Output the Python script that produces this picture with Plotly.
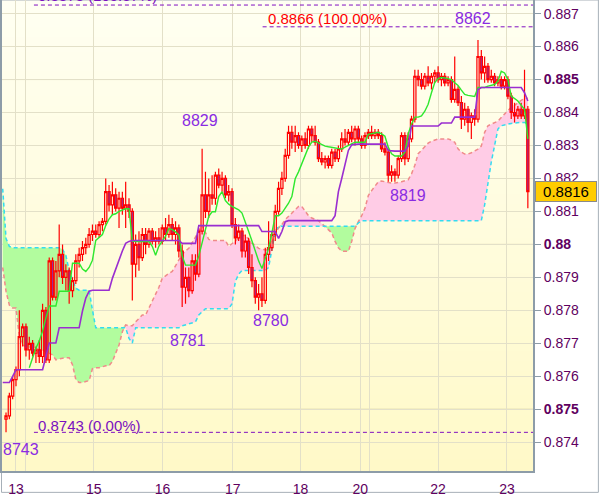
import plotly.graph_objects as go
import zlib, struct, base64

# ---------------- data (prices in 1/10000 units) ----------------
opens = [8747, 8748, 8754, 8759, 8762, 8772, 8775, 8768, 8770, 8767,
         8768, 8766, 8780, 8765, 8795, 8784, 8792, 8797, 8790, 8792,
         8786, 8789, 8795, 8797, 8799, 8800, 8803, 8804, 8803, 8806,
         8807, 8816, 8812, 8815, 8811, 8814, 8811, 8812, 8810, 8794,
         8800, 8796, 8803, 8800, 8804, 8801, 8802, 8801, 8805, 8803,
         8806, 8803, 8805, 8798, 8787, 8790, 8786, 8795, 8791, 8804,
         8815, 8810, 8815, 8814, 8821, 8818, 8820, 8815, 8816, 8806,
         8802, 8804, 8798, 8801, 8793, 8789, 8784, 8785, 8783, 8797,
         8799, 8803, 8810, 8817, 8820, 8827, 8834, 8831, 8833, 8830,
         8832, 8830, 8835, 8833, 8831, 8826, 8825, 8826, 8824, 8828,
         8826, 8829, 8832, 8831, 8834, 8832, 8835, 8832, 8830, 8833,
         8834, 8833, 8834, 8833, 8829, 8828, 8821, 8822, 8821, 8826,
         8833, 8826, 8832, 8838, 8851, 8850, 8848, 8851, 8849, 8851,
         8852, 8850, 8851, 8849, 8850, 8844, 8847, 8843, 8838, 8841,
         8837, 8839, 8838, 8857, 8852, 8854, 8850, 8851, 8849, 8850,
         8848, 8850, 8845, 8840, 8839, 8841, 8839, 8841]
highs = [8749, 8755, 8760, 8763, 8780, 8776, 8776, 8772, 8771, 8769,
         8771, 8782, 8781, 8796, 8796, 8795, 8806, 8800, 8794, 8793,
         8790, 8797, 8799, 8801, 8802, 8805, 8806, 8806, 8807, 8808,
         8820, 8818, 8819, 8817, 8816, 8816, 8819, 8814, 8811, 8803,
         8804, 8805, 8805, 8805, 8805, 8804, 8805, 8806, 8808, 8809,
         8808, 8807, 8806, 8800, 8793, 8793, 8797, 8797, 8805, 8829,
         8822, 8820, 8821, 8822, 8823, 8822, 8821, 8818, 8817, 8808,
         8806, 8805, 8803, 8802, 8797, 8790, 8788, 8790, 8799, 8807,
         8804, 8812, 8819, 8822, 8829, 8836, 8836, 8836, 8834, 8833,
         8834, 8836, 8836, 8836, 8832, 8828, 8827, 8827, 8829, 8829,
         8830, 8834, 8835, 8835, 8836, 8836, 8836, 8833, 8834, 8835,
         8836, 8835, 8835, 8834, 8831, 8829, 8824, 8823, 8827, 8834,
         8834, 8834, 8839, 8853, 8853, 8852, 8852, 8854, 8852, 8853,
         8854, 8852, 8852, 8851, 8851, 8857, 8848, 8845, 8843, 8842,
         8840, 8841, 8862, 8859, 8857, 8855, 8853, 8852, 8851, 8851,
         8851, 8851, 8846, 8843, 8842, 8843, 8853, 8842]
lows = [8743, 8747, 8753, 8757, 8760, 8769, 8766, 8765, 8766, 8764,
        8764, 8764, 8764, 8764, 8783, 8783, 8790, 8788, 8786, 8782,
        8784, 8788, 8793, 8795, 8797, 8799, 8801, 8802, 8802, 8804,
        8806, 8810, 8809, 8810, 8805, 8809, 8805, 8808, 8783, 8790,
        8792, 8795, 8797, 8799, 8800, 8799, 8800, 8800, 8801, 8802,
        8801, 8800, 8796, 8781, 8782, 8784, 8785, 8789, 8790, 8803,
        8808, 8808, 8812, 8812, 8817, 8816, 8814, 8813, 8805, 8800,
        8801, 8796, 8796, 8791, 8787, 8782, 8780, 8781, 8782, 8795,
        8798, 8801, 8809, 8815, 8819, 8826, 8829, 8828, 8829, 8828,
        8829, 8829, 8831, 8830, 8825, 8824, 8823, 8823, 8823, 8825,
        8825, 8828, 8830, 8830, 8831, 8830, 8831, 8829, 8829, 8832,
        8832, 8832, 8832, 8828, 8827, 8819, 8819, 8819, 8820, 8825,
        8824, 8825, 8831, 8837, 8848, 8847, 8847, 8848, 8847, 8849,
        8849, 8848, 8848, 8848, 8843, 8843, 8842, 8835, 8836, 8834,
        8832, 8836, 8837, 8850, 8849, 8849, 8849, 8848, 8848, 8847,
        8847, 8844, 8838, 8837, 8838, 8838, 8838, 8811]
closes = [8748, 8754, 8759, 8762, 8772, 8775, 8768, 8770, 8767, 8768,
          8766, 8780, 8765, 8795, 8784, 8792, 8797, 8790, 8792, 8786,
          8789, 8795, 8797, 8799, 8800, 8803, 8804, 8803, 8806, 8807,
          8816, 8812, 8815, 8811, 8814, 8811, 8812, 8810, 8794, 8800,
          8796, 8803, 8800, 8804, 8801, 8802, 8801, 8805, 8803, 8806,
          8803, 8805, 8798, 8787, 8790, 8786, 8795, 8791, 8804, 8815,
          8810, 8815, 8814, 8821, 8818, 8820, 8815, 8816, 8806, 8802,
          8804, 8798, 8801, 8793, 8789, 8784, 8785, 8783, 8797, 8799,
          8803, 8810, 8817, 8820, 8827, 8834, 8831, 8833, 8830, 8832,
          8830, 8835, 8833, 8831, 8826, 8825, 8826, 8824, 8828, 8826,
          8829, 8832, 8831, 8834, 8832, 8835, 8832, 8830, 8833, 8834,
          8833, 8834, 8833, 8829, 8828, 8821, 8822, 8821, 8826, 8833,
          8826, 8832, 8838, 8851, 8850, 8848, 8851, 8849, 8851, 8852,
          8850, 8851, 8849, 8850, 8844, 8847, 8843, 8838, 8841, 8837,
          8839, 8838, 8857, 8852, 8854, 8850, 8851, 8849, 8850, 8848,
          8850, 8845, 8840, 8839, 8841, 8839, 8841, 8816]
CANDLE_FIRST_BAR = 1

# Tenkan-sen (starts at bar 8)
tenkan = [8762.6, 8765.6, 8768.6, 8770.7, 8773.7, 8777.7, 8781.3, 8781.3, 8781.3, 8785.8,
          8785.8, 8785.8, 8785.8, 8794.3, 8794.3, 8794.3, 8792.5, 8791.8, 8793.0, 8795.2,
          8801.2, 8802.0, 8803.0, 8805.7, 8807.7, 8809.0, 8809.3, 8810.0, 8810.5, 8810.8,
          8810.8, 8801.0, 8800.9, 8800.9, 8800.9, 8800.9, 8800.9, 8799.4, 8796.7, 8799.5,
          8800.9, 8802.5, 8804.8, 8804.5, 8803.8, 8802.8, 8796.5, 8793.7, 8793.7, 8793.7,
          8793.7, 8796.5, 8800.5, 8803.9, 8808.5, 8809.9, 8809.9, 8814.5, 8816.0, 8813.3,
          8812.2, 8811.5, 8811.0, 8810.5, 8809.5, 8807.0, 8803.9, 8801.0, 8797.9, 8795.0,
          8792.7, 8795.5, 8798.8, 8803.5, 8808.7, 8808.7, 8809.5, 8811.0, 8812.5, 8814.5,
          8819.9, 8822.0, 8824.5, 8826.8, 8829.5, 8831.0, 8831.3, 8830.8, 8830.2, 8829.8,
          8829.6, 8829.4, 8829.2, 8829.0, 8828.9, 8829.5, 8830.0, 8830.5, 8831.0, 8831.0,
          8831.0, 8831.0, 8833.4, 8833.6, 8833.8, 8834.0, 8833.5, 8832.8, 8829.5, 8827.5,
          8826.8, 8826.8, 8826.8, 8828.0, 8833.5, 8836.5, 8838.6, 8838.6, 8839.0, 8840.4,
          8842.5, 8846.0, 8849.1, 8850.3, 8850.6, 8850.5, 8850.3, 8850.0, 8849.0, 8848.2,
          8846.8, 8845.5, 8845.2, 8845.0, 8844.9, 8847.6, 8847.6, 8847.6, 8848.0, 8848.2,
          8848.5, 8849.5, 8852.5, 8852.0, 8850.0, 8845.0, 8844.2, 8843.5, 8842.2, 8841.0,
          8832.0]
TENKAN_FIRST_BAR = 8

# Kijun-sen (bars 0..158)
kijun = [8758.1, 8758.1, 8758.1, 8760.0, 8762.0, 8762.0, 8762.0, 8762.0, 8762.0, 8762.0,
         8762.0, 8762.0, 8762.0, 8766.0, 8770.1, 8770.1, 8770.1, 8774.7, 8774.7, 8774.7,
         8774.7, 8774.7, 8774.7, 8774.7, 8779.8, 8783.7, 8785.8, 8786.1, 8786.1, 8786.1,
         8786.1, 8786.1, 8786.1, 8789.7, 8792.7, 8795.2, 8798.0, 8800.3, 8800.9, 8801.2,
         8801.2, 8801.2, 8801.2, 8801.2, 8801.2, 8801.2, 8801.2, 8801.2, 8801.2, 8801.2,
         8801.2, 8801.2, 8801.2, 8801.2, 8800.3, 8800.3, 8800.3, 8800.3, 8800.3, 8805.7,
         8805.7, 8805.7, 8805.7, 8805.7, 8805.7, 8805.7, 8805.7, 8805.7, 8805.7, 8805.7,
         8805.7, 8805.7, 8805.7, 8805.7, 8805.7, 8805.7, 8805.7, 8805.7, 8803.9, 8803.9,
         8803.9, 8803.9, 8803.9, 8801.8, 8803.9, 8806.9, 8807.2, 8807.2, 8807.2, 8807.2,
         8807.2, 8807.2, 8807.2, 8807.2, 8807.2, 8807.2, 8807.2, 8807.2, 8807.2, 8807.2,
         8808.7, 8816.0, 8820.0, 8823.8, 8828.5, 8830.2, 8830.4, 8830.4, 8830.4, 8830.4,
         8830.4, 8830.4, 8830.4, 8830.4, 8830.4, 8830.4, 8828.5, 8828.3, 8828.3, 8828.3,
         8828.3, 8828.3, 8829.8, 8835.9, 8835.9, 8835.9, 8835.9, 8835.9, 8835.9, 8835.9,
         8835.9, 8835.9, 8836.8, 8836.8, 8836.8, 8836.8, 8838.6, 8838.6, 8838.6, 8838.6,
         8838.6, 8838.6, 8838.6, 8847.0, 8847.6, 8847.6, 8847.6, 8847.6, 8847.6, 8847.6,
         8847.6, 8847.6, 8847.6, 8847.6, 8847.6, 8847.6, 8847.6, 8846.0, 8843.5]

# Senkou span A (bars 0..158)
span_a = [8793.0, 8785.8, 8781.6, 8780.7, 8780.7, 8772.0, 8769.5, 8769.0, 8769.0, 8768.6,
          8768.6, 8768.0, 8768.0, 8767.5, 8767.0, 8766.5, 8765.0, 8765.3, 8765.5, 8765.6,
          8765.6, 8763.5, 8759.0, 8758.1, 8758.1, 8758.4, 8758.7, 8762.3, 8762.6, 8762.6,
          8763.0, 8763.2, 8763.2, 8764.5, 8767.0, 8769.5, 8773.5, 8775.6, 8775.3, 8775.3,
          8776.5, 8777.5, 8778.6, 8778.6, 8780.7, 8783.0, 8785.0, 8787.0, 8789.7, 8790.6,
          8791.2, 8791.8, 8793.5, 8795.5, 8797.0, 8798.0, 8798.8, 8800.5, 8802.5, 8804.0,
          8805.7, 8803.5, 8801.5, 8801.2, 8801.2, 8801.2, 8801.2, 8801.2, 8799.4, 8800.3,
          8801.0, 8802.0, 8802.7, 8802.7, 8801.5, 8800.3, 8799.7, 8798.8, 8798.5, 8798.3,
          8798.2, 8800.5, 8803.3, 8805.0, 8806.0, 8807.5, 8808.5, 8809.5, 8810.8, 8811.5,
          8811.5, 8810.2, 8808.7, 8808.0, 8807.5, 8807.2, 8806.3, 8805.4, 8804.3, 8803.5,
          8800.9, 8799.0, 8797.9, 8797.9, 8797.9, 8800.9, 8804.8, 8806.9, 8808.7, 8811.0,
          8814.8, 8816.3, 8817.5, 8819.0, 8819.2, 8819.0, 8818.7, 8818.6, 8818.6, 8818.7,
          8819.0, 8819.3, 8819.6, 8821.4, 8824.0, 8827.5, 8828.6, 8829.8, 8830.7, 8831.3,
          8831.6, 8832.0, 8832.0, 8832.0, 8832.0, 8831.6, 8831.0, 8829.0, 8828.0, 8827.4,
          8827.4, 8827.8, 8828.3, 8828.9, 8829.8, 8834.0, 8836.0, 8836.5, 8837.1, 8837.4,
          8838.5, 8839.5, 8840.7, 8841.6, 8842.2, 8843.0, 8843.7, 8844.3, 8844.3]

# Senkou span B (bars 0..158)
span_b = [8816.9, 8801.8, 8799.4, 8799.0, 8799.0, 8799.0, 8799.0, 8799.0, 8799.0, 8799.0,
          8799.0, 8799.0, 8799.0, 8799.0, 8799.0, 8799.0, 8799.0, 8799.0, 8798.5, 8796.7,
          8792.0, 8789.5, 8786.7, 8786.1, 8786.1, 8786.1, 8786.1, 8780.1, 8774.7, 8774.7,
          8774.7, 8774.7, 8774.7, 8774.7, 8774.7, 8774.7, 8774.7, 8774.7, 8771.5, 8770.1,
          8774.7, 8774.7, 8774.7, 8774.7, 8774.7, 8774.7, 8774.7, 8774.7, 8774.7, 8774.7,
          8774.7, 8774.7, 8774.7, 8774.7, 8775.3, 8775.6, 8775.9, 8776.2, 8776.5, 8778.6,
          8779.5, 8780.5, 8780.5, 8780.5, 8780.5, 8780.5, 8780.5, 8780.5, 8780.5, 8782.0,
          8788.8, 8791.0, 8792.1, 8792.1, 8792.1, 8792.1, 8792.1, 8792.1, 8792.1, 8792.1,
          8793.0, 8799.0, 8804.0, 8805.5, 8805.5, 8805.5, 8805.5, 8805.5, 8805.5, 8805.5,
          8805.5, 8805.5, 8805.5, 8805.5, 8805.5, 8805.5, 8805.5, 8805.5, 8805.5, 8805.5,
          8805.5, 8805.5, 8805.5, 8805.5, 8805.5, 8805.5, 8805.5, 8806.5, 8807.2, 8807.2,
          8807.2, 8807.2, 8807.2, 8807.2, 8807.2, 8807.2, 8807.2, 8807.2, 8807.2, 8807.2,
          8807.2, 8807.2, 8807.2, 8807.2, 8807.2, 8807.2, 8807.2, 8807.2, 8807.2, 8807.2,
          8807.2, 8807.2, 8807.2, 8807.2, 8807.2, 8807.2, 8807.2, 8807.2, 8807.2, 8807.2,
          8807.2, 8807.2, 8807.2, 8807.2, 8807.2, 8812.0, 8819.0, 8825.0, 8830.0, 8835.0,
          8836.0, 8836.3, 8836.5, 8836.7, 8836.8, 8837.0, 8837.0, 8837.0, 8836.5]

# x-axis ticks (bar positions of day separators)
tick_bars = [4, 7, 27.4, 48.1, 69.2, 89.6, 107.6, 110.3, 131.0, 151.7]
tick_text = ["13", "", "15", "16", "17", "18", "20", "", "22", "23"]
price_ticks = [0.874, 0.875, 0.876, 0.877, 0.878, 0.879, 0.880, 0.881,
               0.882, 0.883, 0.884, 0.885, 0.886, 0.887]
price_tick_text = ["0.874", "<b>0.875</b>", "0.876", "0.877", "0.878", "0.879", "<b>0.88</b>",
                   "0.881", "0.882", "0.883", "0.884", "<b>0.885</b>", "0.886", "0.887"]
major_levels = [0.875, 0.880, 0.885]

# zigzag labels: text, label bar, label price
zz_text = ["8743", "8781", "8829", "8780", "8819", "8862"]
zz_bar = [5.5, 55.7, 59.3, 80.6, 122.0, 141.5]
zz_price = [0.87378, 0.87710, 0.88377, 0.87768, 0.88148, 0.88684]

# fibonacci levels
fib_price = [0.8743, 0.8866, 0.88726]
fib_start_bar = [9.4, 78.2, 9.4]
fib_text = ["0.8743 (0.00%)", "0.8866 (100.00%)", "0.8873 (105.37%)"]
fib_text_bar = [10.0, 79.1, 10.0]
fib_text_price = [0.87451, 0.88684, 0.88756]
fib_text_color = ["#7a10c0", "#ff0000", "#7a10c0"]

last_price = 0.8816

# ---------------- helpers ----------------
def p(v):
    return [x / 10000.0 for x in v]

def gradient_png(top, bottom, n=96):
    raw = b""
    for i in range(n):
        t = i / (n - 1)
        c = bytes(int(round(top[k] + (bottom[k] - top[k]) * t)) for k in range(3))
        raw += b"\x00" + c
    def chunk(tag, data):
        return (struct.pack(">I", len(data)) + tag + data +
                struct.pack(">I", zlib.crc32(tag + data) & 0xffffffff))
    ihdr = struct.pack(">IIBBBBB", 1, n, 8, 2, 0, 0, 0)
    png = (b"\x89PNG\r\n\x1a\n" + chunk(b"IHDR", ihdr) +
           chunk(b"IDAT", zlib.compress(raw)) + chunk(b"IEND", b""))
    return "data:image/png;base64," + base64.b64encode(png).decode()

W, H = 600, 497
ML, MR, MT, MB = 1, 67, 0, 23
PW, PH = W - ML - MR, H - MT - MB
YR = [0.873127, 0.887413]
XR = [-0.21, 159.55]
FONT = "Liberation Sans"
AXC = "#600060"
PURPLE_TXT = "#8a2be2"

bars = list(range(len(span_a)))
A = p(span_a)
B = p(span_b)
MX = [max(a, b) for a, b in zip(A, B)]
cbars = list(range(CANDLE_FIRST_BAR, CANDLE_FIRST_BAR + len(closes)))
tbars = list(range(TENKAN_FIRST_BAR, TENKAN_FIRST_BAR + len(tenkan)))

fig = go.Figure()
# cloud fills (main axes, below candles)
fig.add_trace(go.Scatter(x=bars, y=B, mode="lines", line=dict(width=0), hoverinfo="skip", showlegend=False))
fig.add_trace(go.Scatter(x=bars, y=MX, mode="lines", line=dict(width=0), fill="tonexty",
                         fillcolor="#ffcce6", hoverinfo="skip", showlegend=False))
fig.add_trace(go.Scatter(x=bars, y=A, mode="lines", line=dict(width=0), hoverinfo="skip", showlegend=False))
fig.add_trace(go.Scatter(x=bars, y=MX, mode="lines", line=dict(width=0), fill="tonexty",
                         fillcolor="#b2fc9e", hoverinfo="skip", showlegend=False))
fig.add_trace(go.Scatter(x=bars, y=A, mode="lines", line=dict(color="#f08a8a", width=1.5, dash="4px,3px"),
                         hoverinfo="skip", showlegend=False))
fig.add_trace(go.Scatter(x=bars, y=B, mode="lines", line=dict(color="#33dcf0", width=1.5, dash="4px,3px"),
                         hoverinfo="skip", showlegend=False))

# candles + lines on overlay axis (drawn above the cloud)
fig.add_trace(go.Candlestick(x=cbars, open=p(opens), high=p(highs), low=p(lows), close=p(closes),
                             increasing=dict(line=dict(color="#ff0000", width=1.2), fillcolor="rgba(0,0,0,0)"),
                             decreasing=dict(line=dict(color="#ff0000", width=1.2), fillcolor="#9a2c9a"),
                             whiskerwidth=0, yaxis="y2", hoverinfo="skip", showlegend=False))
fig.add_trace(go.Scatter(x=tbars, y=p(tenkan), mode="lines", line=dict(color="#2ee82e", width=1.4),
                         yaxis="y2", hoverinfo="skip", showlegend=False))
fig.add_trace(go.Scatter(x=bars, y=p(kijun), mode="lines", line=dict(color="#9a2ed0", width=1.6),
                         yaxis="y2", hoverinfo="skip", showlegend=False))

# fibonacci level lines
for fp, fb in zip(fib_price, fib_start_bar):
    fig.add_trace(go.Scatter(x=[fb, XR[1]], y=[fp, fp], mode="lines",
                             line=dict(color="#8010c0", width=1, dash="4px,3px"),
                             yaxis="y2", hoverinfo="skip", showlegend=False))

annotations = []
for t, b, pr in zip(zz_text, zz_bar, zz_price):
    annotations.append(dict(x=b, y=pr, xref="x", yref="y", text=t, showarrow=False,
                            font=dict(family=FONT, size=16, color=PURPLE_TXT),
                            xanchor="center", yanchor="middle"))
for t, b, pr, c in zip(fib_text, fib_text_bar, fib_text_price, fib_text_color):
    yref = "y"
    yy = pr
    if pr > YR[1]:
        yref = "paper"
        yy = 1 + (pr - YR[1]) / (YR[1] - YR[0])
    annotations.append(dict(x=b, y=yy, xref="x", yref=yref, text=t, showarrow=False,
                            font=dict(family=FONT, size=15, color=c),
                            xanchor="left", yanchor="middle"))
annotations.append(dict(x=1 + 2.0 / PW, y=last_price, xref="paper", yref="y",
                        text="0.8816", showarrow=False, xanchor="left", yanchor="middle",
                        width=58, height=17, align="center",
                        font=dict(family=FONT, size=15, color="#000000"),
                        bgcolor="#ffcc00", bordercolor="#8a8a8a", borderwidth=1, borderpad=1))

shapes = []
for lv in major_levels:
    shapes.append(dict(type="line", xref="paper", yref="y", x0=0, x1=1, y0=lv, y1=lv,
                       line=dict(color="#cdc89e", width=1), layer="between"))
# outer frame
shapes.append(dict(type="rect", xref="paper", yref="paper",
                   x0=-(ML - 0.5) / PW, x1=(W - ML - 1.5) / PW,
                   y0=-(MB - 1.5) / PH, y1=1 + MT / PH,
                   line=dict(color="#a7b0b8", width=1), layer="below"))

fig.update_layout(
    width=W, height=H,
    margin=dict(l=ML, r=MR, t=MT, b=MB),
    paper_bgcolor="#ffffff",
    plot_bgcolor="#fffde0",
    boxgap=0.05,
    showlegend=False,
    images=[dict(source=gradient_png((255, 255, 242), (255, 249, 200)),
                 xref="paper", yref="paper", x=0, y=1, sizex=1, sizey=1,
                 sizing="stretch", layer="below", xanchor="left", yanchor="top")],
    xaxis=dict(range=XR, tickmode="array", tickvals=tick_bars, ticktext=tick_text,
               showgrid=True, gridcolor="#e3e0c8", gridwidth=1, zeroline=False,
               ticks="outside", ticklen=4, tickcolor="rgba(0,0,0,0)",
               tickfont=dict(family=FONT, size=14, color=AXC),
               showline=True, linecolor="#8d9ca8", linewidth=2,
               rangeslider=dict(visible=False), fixedrange=True),
    yaxis=dict(range=YR, side="right", tickmode="array", tickvals=price_ticks,
               ticktext=price_tick_text, showgrid=True, gridcolor="#e3e0c8", gridwidth=1,
               zeroline=False, ticks="outside", ticklen=6, tickcolor="#8d9ca8",
               tickfont=dict(family=FONT, size=14, color=AXC),
               showline=True, mirror=True, linecolor="#8d9ca8", linewidth=2, fixedrange=True),
    yaxis2=dict(range=YR, overlaying="y", side="right", visible=False, fixedrange=True),
    annotations=annotations,
    shapes=shapes,
)

fig.write_html("out.html",
               config={"displayModeBar": False},
               post_script="document.body.style.margin='0px';document.body.style.padding='0px';")
